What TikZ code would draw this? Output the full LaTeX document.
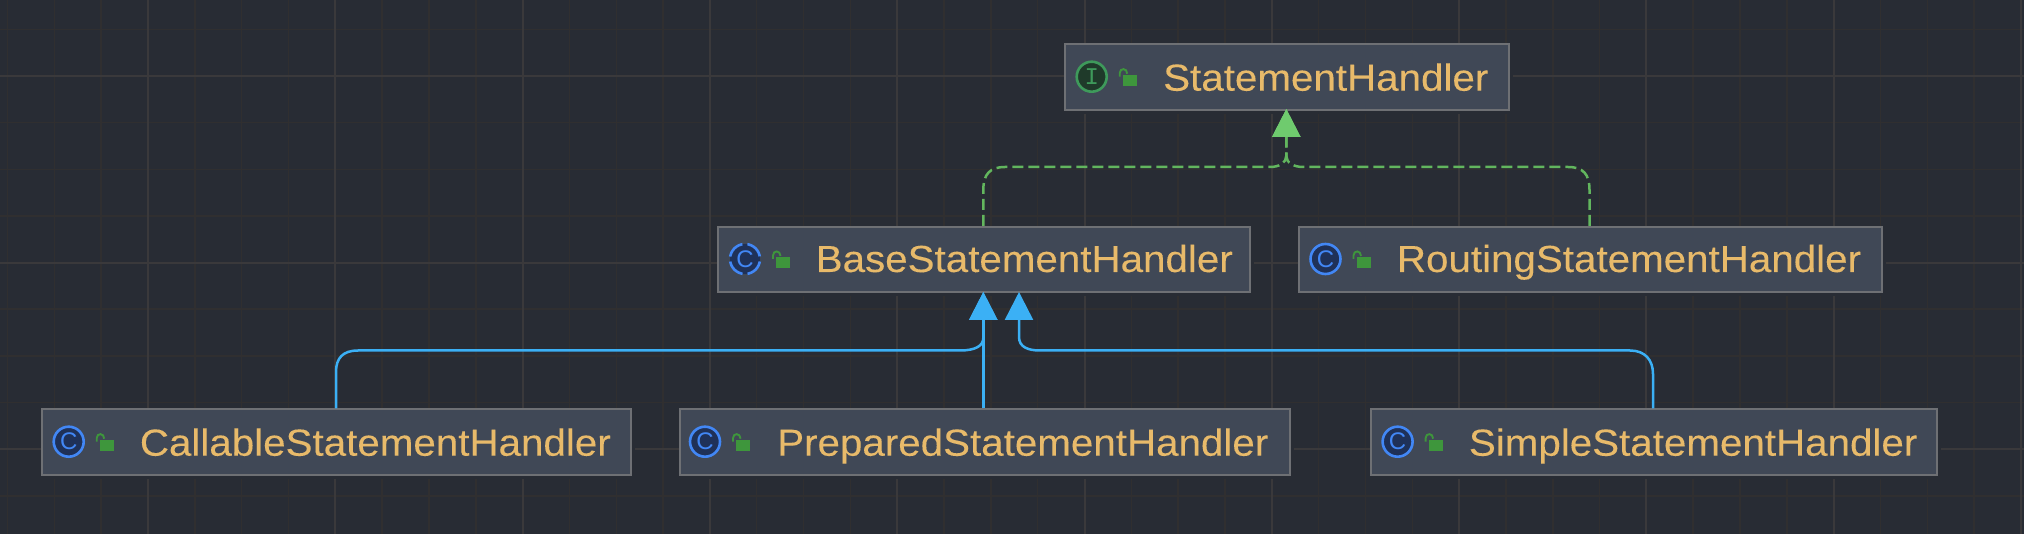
\documentclass[tikz,border=0pt]{standalone}
\usepackage{fontspec}
\usetikzlibrary{arrows.meta,calc}
\newfontfamily\umlfont[FakeStretch=1.07,FakeBold=0.12]{Liberation Sans}
\newfontfamily\iconfont{Liberation Sans}
\newfontfamily\iconmono{Liberation Mono}
\definecolor{bgc}{RGB}{40,44,52}
\definecolor{minorc}{RGB}{48,47,48}
\definecolor{majorc}{RGB}{58,57,59}
\definecolor{boxc}{RGB}{64,72,86}
\definecolor{edgec}{RGB}{110,112,116}
\definecolor{textc}{RGB}{232,186,106}
\definecolor{greenl}{RGB}{98,182,94}
\definecolor{greent}{RGB}{111,203,110}
\definecolor{bluel}{RGB}{59,176,245}
\definecolor{ringb}{RGB}{66,135,245}
\definecolor{fillb}{RGB}{31,49,88}
\definecolor{ringg}{RGB}{62,154,91}
\definecolor{fillg}{RGB}{31,58,42}
\definecolor{lockc}{RGB}{62,150,60}
\tikzset{
  umlbox/.style={draw=edgec,fill=boxc,line width=2pt,inner sep=0pt,outer sep=0pt,anchor=north west},
  umltext/.style={text=textc,inner sep=0pt,anchor=base west,font=\umlfont\fontsize{37.7}{40}\selectfont},
  iconring/.style={circle,inner sep=0pt,minimum size=30pt,line width=2.6pt},
  classicon/.style={iconring,draw=ringb,fill=fillb,text=ringb,font=\iconfont\fontsize{24}{26}\selectfont},
  abstracticon/.style={iconring,fill=fillb,text=ringb,font=\iconfont\fontsize{24}{26}\selectfont},
  ifaceicon/.style={iconring,draw=ringg,fill=fillg,text=ringg,font=\iconmono\fontsize{24}{26}\selectfont},
  realize/.style={draw=greenl,line width=2.5pt,dash pattern=on 11pt off 5pt,-{Triangle[length=28pt,width=28pt,color=greent]}},
  inherit/.style={draw=bluel,line width=2.5pt,-{Triangle[length=28pt,width=28pt,color=bluel]}},
}
% name, x, y, width, height, text x, baseline y, text
\newcommand{\umlnode}[8]{%
  \fill[bgc] (#2,#3) rectangle ++(#4+4,#5+4);
  \node[umlbox,minimum width=#4pt,minimum height=#5pt] (#1) at (#2,#3) {};
  \node[umltext] (#1-text) at (#6,#7) {#8};
}
% centre x, centre y
\newcommand{\umllock}[2]{%
  \fill[lockc] (#1+31,#2-1.7) rectangle (#1+45,#2+9.3);
  \draw[lockc,line width=1.9pt] (#1+28,#2) -- (#1+28,#2-3.5) .. controls (#1+28,#2-9) and (#1+35.5,#2-9) .. (#1+35.5,#2-3);
}
\begin{document}
\begin{tikzpicture}[x=1pt,y=-1pt]
\useasboundingbox (0,0) rectangle (2024,534);
\fill[bgc] (0,0) rectangle (2024,534);
\begin{scope}
\clip (0,0) rectangle (2024,534);
\foreach \i in {-3,...,40}{
  \pgfmathsetmacro{\gx}{148+46.825*\i}
  \pgfmathtruncatemacro{\md}{mod(\i+8,4)}
  \ifnum\md=0\relax\else\draw[minorc,line width=1.5pt] (\gx,0) -- (\gx,534);\fi
}
\foreach \j in {-1,...,10}{
  \pgfmathsetmacro{\gy}{76+46.65*\j}
  \pgfmathtruncatemacro{\md}{mod(\j+8,4)}
  \ifnum\md=0\relax\else\draw[minorc,line width=1.5pt] (0,\gy) -- (2024,\gy);\fi
}
\foreach \i in {-3,...,40}{
  \pgfmathsetmacro{\gx}{148+46.825*\i}
  \pgfmathtruncatemacro{\md}{mod(\i+8,4)}
  \ifnum\md=0\draw[majorc,line width=2pt] (\gx,0) -- (\gx,534);\fi
}
\foreach \j in {-1,...,10}{
  \pgfmathsetmacro{\gy}{76+46.65*\j}
  \pgfmathtruncatemacro{\md}{mod(\j+8,4)}
  \ifnum\md=0\draw[majorc,line width=2pt] (0,\gy) -- (2024,\gy);\fi
}
\end{scope}

\umlnode{stmt}{1065}{44.5}{444}{65.5}{1163}{90.7}{StatementHandler}
\umlnode{base}{717.5}{227}{532.5}{65.5}{815.5}{272}{BaseStatementHandler}
\umlnode{routing}{1298.5}{227}{583}{65.5}{1396.7}{272}{RoutingStatementHandler}
\umlnode{callable}{41.5}{409.5}{589}{65.5}{139.7}{455.7}{CallableStatementHandler}
\umlnode{prepared}{679.5}{409.5}{610}{65.5}{777}{455.7}{PreparedStatementHandler}
\umlnode{simple}{1370.5}{409.5}{566.5}{65.5}{1468.7}{455.7}{SimpleStatementHandler}

\node[ifaceicon] (stmt-icon) at (1091.7,76.7) {I};
\umllock{1091.7}{76.7}
\node[abstracticon] (base-icon) at (745,259) {C};
\draw[ringb,line width=2.6pt,dash pattern=on 18.5pt off 5pt,dash phase=-2.5pt] (base-icon) circle[radius=15];
\umllock{745}{259}
\node[classicon] (routing-icon) at (1325.5,259) {C};
\umllock{1325.5}{259}
\node[classicon] (callable-icon) at (68.7,441.7) {C};
\umllock{68.7}{441.7}
\node[classicon] (prepared-icon) at (705,441.7) {C};
\umllock{705}{441.7}
\node[classicon] (simple-icon) at (1397.6,441.7) {C};
\umllock{1397.6}{441.7}

\coordinate (stmt-in) at ($(stmt.south west)+(221.3,-1)$);
\coordinate (base-out) at ($(base.north west)+(265.8,-1)$);
\coordinate (routing-out) at ($(routing.north west)+(291,-1)$);
\coordinate (base-in-a) at ($(base.south west)+(265.8,-0.5)$);
\coordinate (base-in-b) at ($(base.south west)+(301.5,-0.5)$);
\coordinate (callable-out) at ($(callable.north west)+(294.5,-1)$);
\coordinate (prepared-out) at ($(prepared.north west)+(303.8,-1)$);
\coordinate (simple-out) at ($(simple.north west)+(282.5,-1)$);

\draw[realize] (base-out) -- (983.3,190) .. controls (983.3,174) and (990,167) .. (1005,167) -- (1270,167) .. controls (1279,167) and (1286.3,163) .. (1286.3,156) -- (stmt-in);
\draw[realize] (routing-out) -- (1589.5,190) .. controls (1589.5,174) and (1583,167) .. (1568,167) -- (1303,167) .. controls (1294,167) and (1286.3,163) .. (1286.3,156) -- (stmt-in);

\draw[inherit] (callable-out) -- (336,372) .. controls (336,358) and (343,350.5) .. (358,350.5) -- (960,350.5) .. controls (975,350.5) and (983.3,346) .. (983.3,338) -- (base-in-a);
\draw[inherit] (prepared-out) -- (base-in-a);
\draw[inherit] (simple-out) -- (1653,374) .. controls (1653,360) and (1645,350.5) .. (1630,350.5) -- (1040,350.5) .. controls (1028,350.5) and (1019,347) .. (1019,337) -- (base-in-b);
\end{tikzpicture}
\end{document}
